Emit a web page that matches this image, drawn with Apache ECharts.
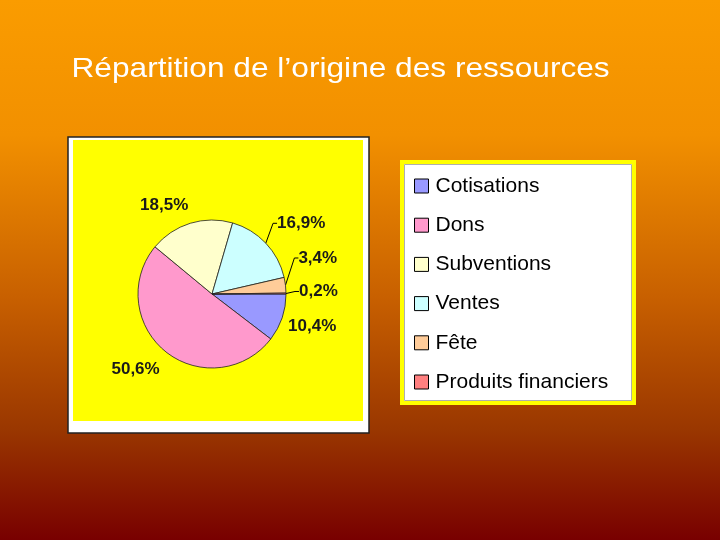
<!DOCTYPE html>
<html><head><meta charset="utf-8">
<script src="https://cdn.jsdelivr.net/npm/echarts@6/dist/echarts.min.js"></script>
<style>html,body{margin:0;padding:0;}#c{width:720px;height:540px;}</style>
</head><body><div id="c"></div>
<script>
const categories = ['Cotisations','Dons','Subventions','Ventes','Fête','Produits financiers'];
const shares = [10.4, 50.6, 18.5, 16.9, 3.4, 0.2];
const titleText = 'Répartition de l’origine des ressources';

// styling
const sliceColors = ['#9999FF','#FF99CC','#FFFFCC','#CCFFFF','#FFCC99','#FF8080'];
const showLeader = [false, false, false, true, true, true];
const labelShift = [[-12.5,5.5],[9,10],[10,-8.7],[-5,-13],[-6,-26],[-6,-2]];

const chart = echarts.init(document.getElementById('c'), null, {renderer:'canvas'});
const data = categories.map((n,i)=>({
  name:n, value:shares[i],
  itemStyle:{color:sliceColors[i]},
  labelLine:{show:showLeader[i]}
}));
chart.setOption({
  backgroundColor:{type:'linear',x:0,y:0,x2:0,y2:1,colorStops:[
    {offset:0,color:'#FA9C00'},{offset:0.25,color:'#F29000'},
    {offset:0.55,color:'#C86000'},{offset:0.8,color:'#993600'},{offset:1,color:'#780000'}]},
  animation:false,
  graphic:[
    {type:'text',x:71.5,y:69,scaleX:1.13,style:{text:titleText,fill:'#FFFFFF',
      font:'28px "Liberation Sans", Arial',align:'left',verticalAlign:'middle'}},
    {type:'rect',shape:{x:68,y:137,width:301,height:296},style:{fill:'#FFFFFF',stroke:'#222',lineWidth:1.5},z:-10},
    {type:'rect',shape:{x:73,y:140,width:290,height:281},style:{fill:'#FFFF00'},z:-9},
    {type:'rect',shape:{x:402,y:162,width:232,height:241},style:{fill:'#FFFFFF',stroke:'#FFFF00',lineWidth:4},z:-10},
    {type:'rect',shape:{x:404.5,y:164.5,width:227,height:236},style:{fill:'none',stroke:'#999',lineWidth:0.8},z:-9}
  ],
  legend:{orient:'vertical',left:409,top:170.5,itemWidth:14,itemHeight:14,itemGap:18.2,icon:'rect',
    data:categories,
    itemStyle:{borderColor:'#000',borderWidth:1},
    textStyle:{fontFamily:'Liberation Sans, Arial',fontSize:21,lineHeight:20,color:'#000',padding:[0,0,0,2]}},
  series:[{
    type:'pie',center:[212,294],radius:74,startAngle:0,clockwise:true,
    avoidLabelOverlap:false,
    data:data,
    itemStyle:{borderColor:'#222',borderWidth:0.8},
    label:{show:true,position:'outside',color:'#1a1a1a',fontFamily:'Liberation Sans, Arial',fontSize:17,fontWeight:'bold',
      formatter:p=>p.value.toFixed(1).replace('.',',')+'%'},
    labelLine:{length:10,length2:4,lineStyle:{color:'#000',width:1}},
    labelLayout:function(p){
      const r=p.labelRect, s=labelShift[p.dataIndex];
      const right = p.align==='right';
      return {x:(right? r.x+r.width : r.x)+s[0], y:r.y+r.height/2+s[1],
              align:right?'right':'left', verticalAlign:'middle'};
    }
  }]
});
</script></body></html>
